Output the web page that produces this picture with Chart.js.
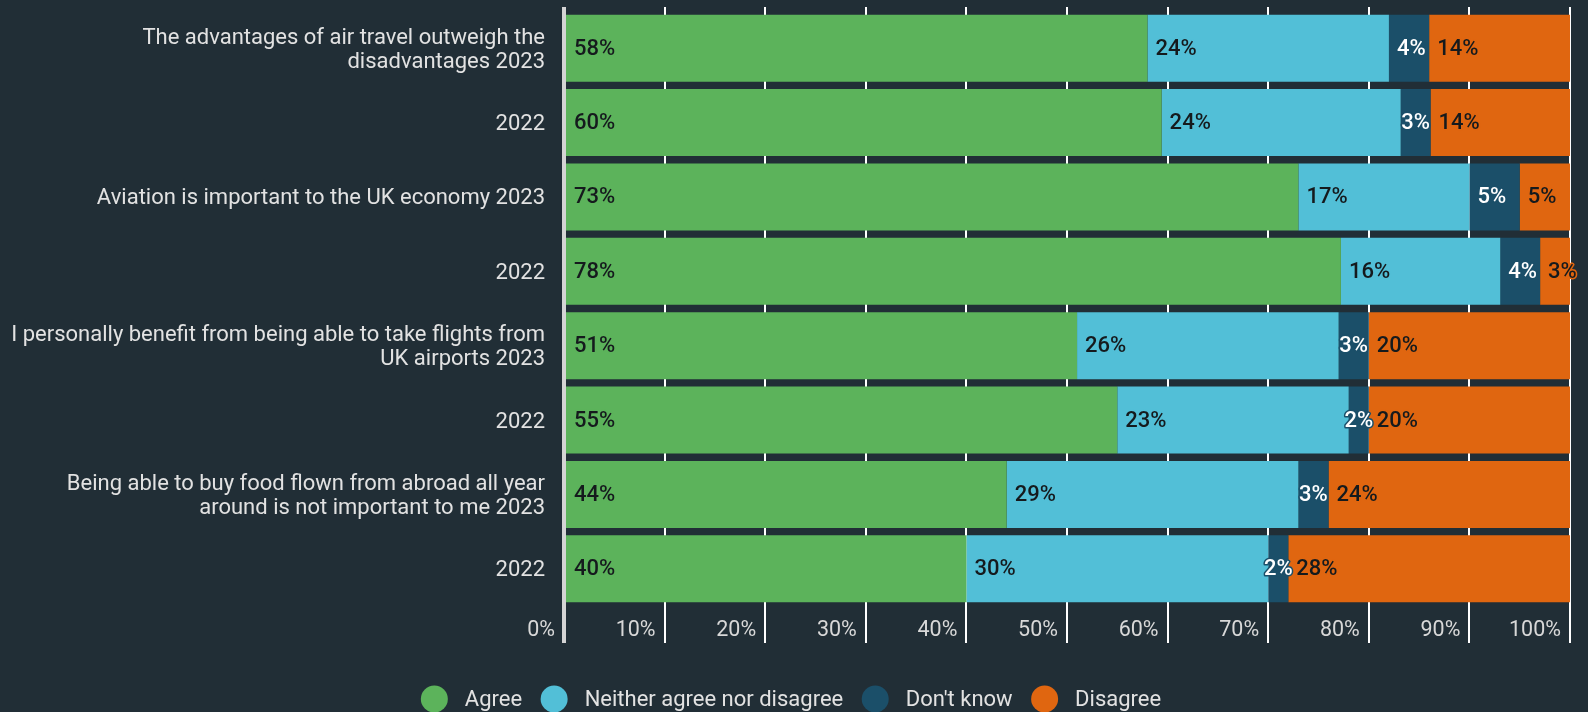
<!DOCTYPE html>
<html>
<head>
<meta charset="utf-8">
<script src="https://cdn.jsdelivr.net/npm/chart.js@4.4.1/dist/chart.umd.min.js"></script>
<style>
  html, body { margin: 0; padding: 0; background: #212e36; }
  #wrap { width: 1588px; height: 712px; position: relative; }
</style>
</head>
<body>
<div id="wrap"><canvas id="chart"></canvas></div>
<script>
// Survey statements (each shown for 2023 and 2022)
const categories = [
  ['The advantages of air travel outweigh the', 'disadvantages 2023'],
  '2022',
  'Aviation is important to the UK economy 2023',
  '2022',
  ['I personally benefit from being able to take flights from', 'UK airports 2023'],
  '2022',
  ['Being able to buy food flown from abroad all year', 'around is not important to me 2023'],
  '2022'
];
const agree    = [58, 60, 73, 78, 51, 55, 44, 40];
const neither  = [24, 24, 17, 16, 26, 23, 29, 30];
const dontKnow = [4, 3, 5, 4, 3, 2, 3, 2];
const disagree = [14, 14, 5, 3, 20, 20, 24, 28];
const tickValues = [0, 10, 20, 30, 40, 50, 60, 70, 80, 90, 100];

const FONT = 'Roboto';

// rows are drawn as 100% stacked bars (some rounded rows add up to 101)
const totals = agree.map((v, i) => v + neither[i] + dontKnow[i] + disagree[i]);
const share = arr => arr.map((v, i) => v / totals[i] * 100);

function mkSet(label, raw, color, labelColor) {
  return { label, raw, data: share(raw), backgroundColor: color, labelColor,
    borderWidth: 0, barPercentage: 0.9, categoryPercentage: 1 };
}

// value labels inside the segments, outlined with the segment colour
const segLabels = {
  id: 'segLabels',
  afterDatasetsDraw(chart) {
    const ctx = chart.ctx;
    const sets = chart.data.datasets;
    ctx.save();
    ctx.font = '500 22px ' + FONT;
    ctx.textBaseline = 'middle';
    ctx.textAlign = 'left';
    ctx.lineJoin = 'round';
    ctx.lineWidth = 3;
    sets.forEach((ds, di) => {
      const last = di === sets.length - 1;
      chart.getDatasetMeta(di).data.forEach((bar, i) => {
        const { x, base, y } = bar.getProps(['x', 'base', 'y'], true);
        const txt = ds.raw[i] + '%';
        const w = ctx.measureText(txt).width;
        const seg = x - base;
        const left = (w + 9 <= seg || last) ? base + 8 : base + seg / 2 - w / 2;
        ctx.strokeStyle = ds.backgroundColor;
        ctx.strokeText(txt, left, y + 1);
        ctx.fillStyle = ds.labelColor;
        ctx.fillText(txt, left, y + 1);
      });
    });
    ctx.restore();
  }
};

// round dot legend at the bottom
const dotLegend = {
  id: 'dotLegend',
  afterDraw(chart) {
    const ctx = chart.ctx;
    ctx.save();
    ctx.font = '22px ' + FONT;
    ctx.textBaseline = 'middle';
    ctx.textAlign = 'left';
    const r = 13.5, gap = 17, sep = 18.5;
    const items = chart.data.datasets.map(ds => ({ text: ds.label, color: ds.backgroundColor, w: ctx.measureText(ds.label).width }));
    const total = items.reduce((s, it) => s + 2 * r + gap + it.w, 0) + sep * (items.length - 1);
    let x = chart.width / 2 - total / 2 - 3;
    const y = chart.height - 13;
    items.forEach(it => {
      ctx.fillStyle = it.color;
      ctx.beginPath(); ctx.arc(x + r, y, r, 0, Math.PI * 2); ctx.fill();
      x += 2 * r + gap;
      ctx.fillStyle = '#e2e2e2';
      ctx.fillText(it.text, x, y + 1);
      x += it.w + sep;
    });
    ctx.restore();
  }
};

const gridColor = c => c.index === 0 ? '#d4d4d4' : '#ffffff';
const gridWidth = c => c.index === 0 ? 4 : 2;
const setTicks = axis => { axis.ticks = tickValues.map(v => ({ value: v })); };

new Chart(document.getElementById('chart'), {
  type: 'bar',
  data: {
    labels: categories,
    datasets: [
      mkSet('Agree', agree, '#5cb35b', '#151a1d'),
      mkSet('Neither agree nor disagree', neither, '#52bfd7', '#151a1d'),
      mkSet("Don't know", dontKnow, '#1b4f69', '#ffffff'),
      mkSet('Disagree', disagree, '#e06610', '#151a1d')
    ]
  },
  options: {
    indexAxis: 'y',
    responsive: true,
    maintainAspectRatio: false,
    animation: false,
    layout: { padding: { top: 7, right: 18, bottom: 68, left: 0 } },
    plugins: { legend: { display: false }, tooltip: { enabled: false } },
    scales: {
      x: {
        stacked: true, min: 0, max: 100, position: 'bottom',
        afterBuildTicks: setTicks,
        afterFit: axis => { axis.height = 38; },
        border: { display: false },
        grid: { color: gridColor, lineWidth: gridWidth, tickLength: 37, drawTicks: true },
        ticks: { align: 'end', labelOffset: -9, padding: -24, color: '#d8d8d8',
          font: { family: FONT, size: 21.5, lineHeight: '24px' }, callback: v => v + '%' }
      },
      x2: {
        min: 0, max: 100, position: 'top',
        afterBuildTicks: setTicks,
        border: { display: false },
        grid: { color: gridColor, lineWidth: gridWidth, tickLength: 4, drawOnChartArea: false },
        ticks: { display: false }
      },
      y: {
        stacked: true,
        afterFit: axis => { axis.width = 564; axis.paddingTop = 0; axis.paddingBottom = 0; },
        border: { display: false },
        grid: { display: false, drawTicks: false },
        ticks: { padding: 19, labelOffset: 2, color: '#e2e2e2', font: { family: FONT, size: 22, lineHeight: '24px' } }
      }
    }
  },
  plugins: [segLabels, dotLegend]
});
</script>
</body>
</html>
